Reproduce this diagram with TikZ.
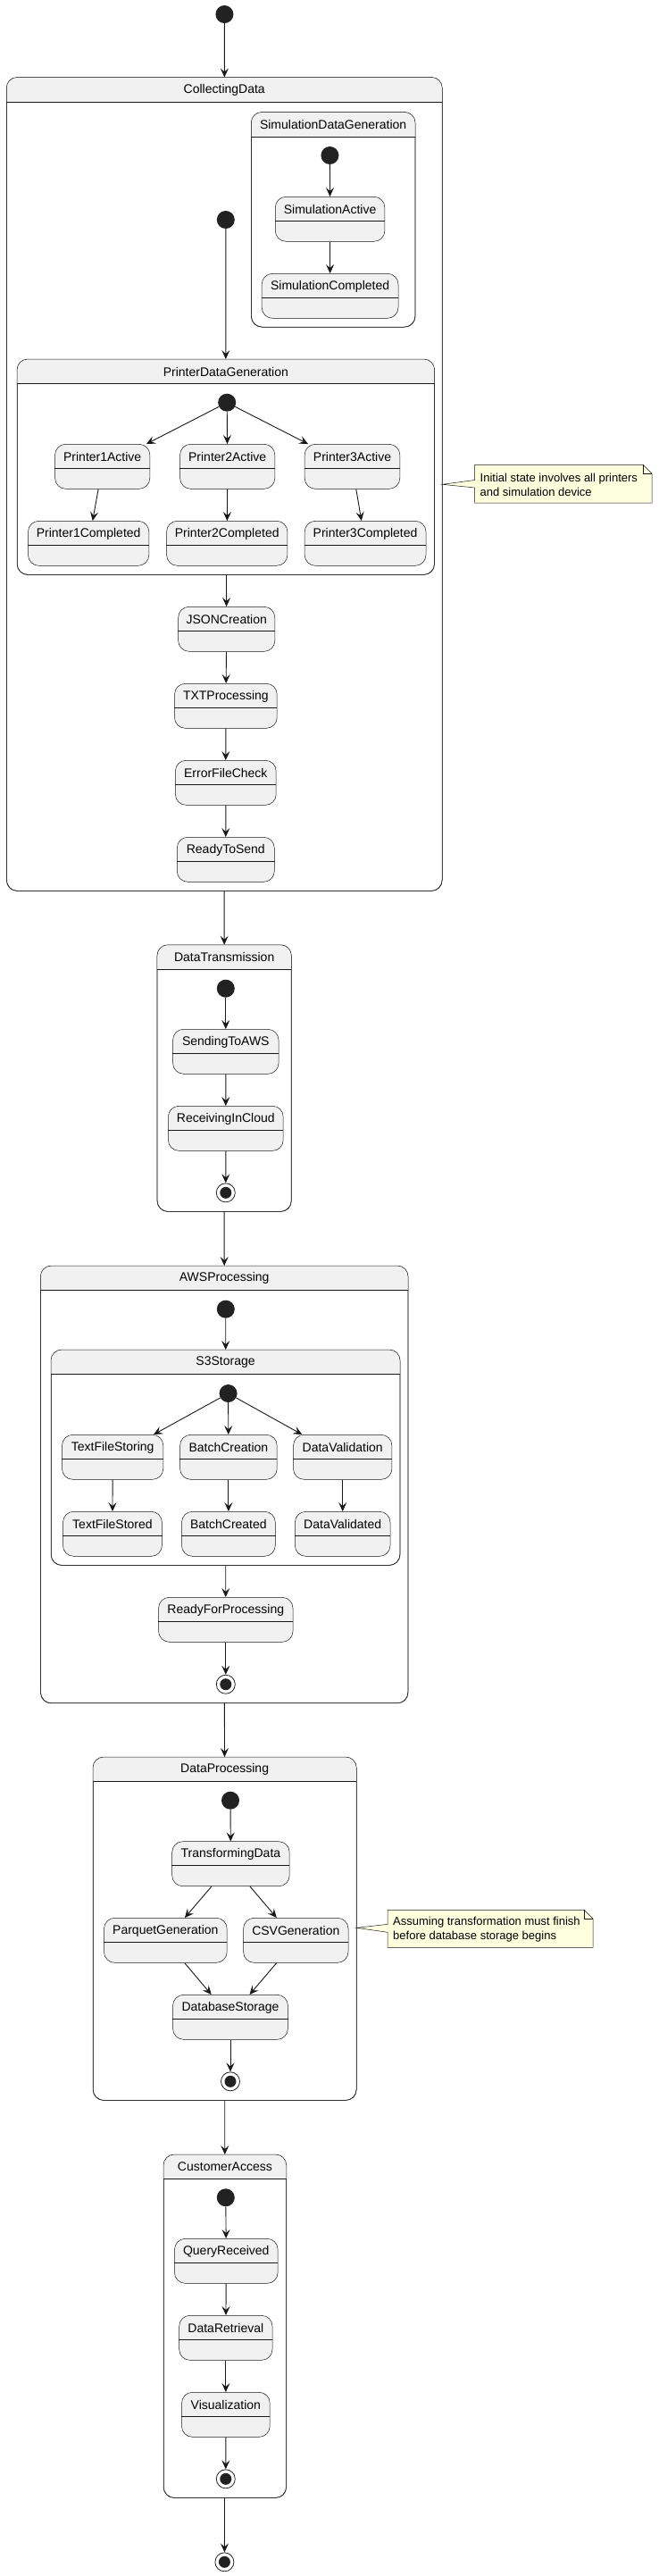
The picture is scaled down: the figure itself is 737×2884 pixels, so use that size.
\documentclass[tikz,border=0pt]{standalone}
\usepackage{fontspec}
\setmainfont{Liberation Sans}
\usetikzlibrary{arrows.meta,calc}
\definecolor{statefill}{HTML}{F1F1F1}
\definecolor{linec}{HTML}{181818}
\definecolor{notefill}{HTML}{FEFFDD}
\definecolor{startc}{HTML}{222222}
\tikzset{
  sstate/.style={rectangle, rounded corners=12pt, minimum height=50pt, fill=statefill, draw=linec, line width=0.5pt, inner sep=0pt},
  cstate/.style={rectangle, rounded corners=12pt, fill=white, draw=linec, line width=0.5pt, inner sep=0pt},
  sepl/.style={draw=linec, line width=0.5pt},
  lbl/.style={font=\fontsize{14}{16}\selectfont, text=black, inner sep=0pt},
  notetxt/.style={font=\fontsize{13}{16.5}\selectfont, text=black, inner sep=0pt, align=left, anchor=west},
  noteshape/.style={fill=notefill, draw=linec, line width=0.5pt, line join=miter},
  initst/.style={circle, fill=startc, minimum size=20pt, inner sep=0pt},
  finalst/.style={circle, draw=startc, fill=white, line width=0.8pt, minimum size=21pt, inner sep=0pt},
  arr/.style={draw=linec, line width=0.9pt, -{Stealth[length=10pt,width=9pt,inset=4pt]}}
}
\newcommand{\sstate}[5]{%
  \pgfmathsetmacro\stW{#3-#2}%
  \pgfmathsetmacro\stX{(#2+#3)/2}%
  \pgfmathsetmacro\stY{#4+25}%
  \node[sstate, minimum width=\stW pt] (#1) at (\stX,\stY) {};
  \draw[sepl] ([yshift=-27pt]#1.north west) -- ([yshift=-27pt]#1.north east);
  \node[lbl] (#1-t) at ([yshift=-14.5pt]#1.north) {#5};
}
\newcommand{\cstate}[6]{%
  \pgfmathsetmacro\cpW{#3-#2}%
  \pgfmathsetmacro\cpH{#5-#4}%
  \pgfmathsetmacro\cpX{(#2+#3)/2}%
  \pgfmathsetmacro\cpY{(#4+#5)/2}%
  \node[cstate, minimum width=\cpW pt, minimum height=\cpH pt] (#1) at (\cpX,\cpY) {};
  \begin{scope}
    \clip (#1.north west) rectangle ([yshift=-27.5pt]#1.north east);
    \fill[statefill, rounded corners=12pt] (#1.north west) rectangle (#1.south east);
  \end{scope}
  \draw[sepl, rounded corners=12pt] (#1.north west) rectangle (#1.south east);
  \draw[sepl] ([yshift=-27.5pt]#1.north west) -- ([yshift=-27.5pt]#1.north east);
  \node[lbl] (#1-t) at ([yshift=-14pt]#1.north) {#6};
}
\begin{document}
\begin{tikzpicture}[x=1pt,y=-1pt]
\useasboundingbox[fill=white] (0,0) rectangle (737,2884);

\node[initst] (s0) at (251.4,16) {};
\cstate{CD}{7.5}{495}{86.7}{997.3}{CollectingData}
\cstate{SDG}{281.5}{464.8}{125.7}{366}{SimulationDataGeneration}
\node[initst] (sdgS) at (369.4,174) {};
\sstate{SA}{308.3}{430.9}{220.3}{SimulationActive}
\sstate{SC}{293.2}{446}{306.3}{SimulationCompleted}
\node[initst] (cdS) at (252.8,246) {};
\cstate{PDG}{19.3}{486.4}{402.3}{643.3}{PrinterDataGeneration}
\node[initst] (pdgS) at (254.2,450.7) {};
\sstate{PoneA}{61.6}{167.8}{497.3}{Printer1Active}
\sstate{PtwoA}{201.6}{307.8}{497.3}{Printer2Active}
\sstate{PthreeA}{341.2}{447.8}{497.3}{Printer3Active}
\sstate{PoneC}{31.5}{166.8}{583.3}{Printer1Completed}
\sstate{PtwoC}{186.6}{321.9}{583.3}{Printer2Completed}
\sstate{PthreeC}{341.2}{477}{583.3}{Printer3Completed}
\sstate{JSON}{199.7}{307.8}{679.3}{JSONCreation}
\sstate{TXT}{195.5}{310.2}{765.3}{TXTProcessing}
\sstate{EFC}{196.4}{309.2}{851.3}{ErrorFileCheck}
\sstate{RTS}{198.3}{307.3}{937.3}{ReadyToSend}

\cstate{DT}{176.2}{326.1}{1058}{1356.3}{DataTransmission}
\node[initst] (dtS) at (252.8,1106.7) {};
\sstate{STA}{193.6}{312}{1152.3}{SendingToAWS}
\sstate{RIC}{188.4}{317.2}{1238.3}{ReceivingInCloud}
\node[finalst] (dtE) at (252.8,1335.3) {};

\cstate{AWS}{45.6}{456.8}{1417.3}{1906.7}{AWSProcessing}
\node[initst] (awsS) at (252.8,1465.7) {};
\cstate{S3}{57.3}{447.8}{1511.3}{1752.3}{S3Storage}
\node[initst] (s3S) at (255.6,1560) {};
\sstate{TFS}{69.5}{182.8}{1606.3}{TextFileStoring}
\sstate{BC}{201.6}{310.2}{1606.3}{BatchCreation}
\sstate{DV}{328.5}{438.9}{1606.3}{DataValidation}
\sstate{TFSd}{70.5}{181.4}{1692.3}{TextFileStored}
\sstate{BCd}{203.5}{308.3}{1692.3}{BatchCreated}
\sstate{DVd}{330.4}{437}{1692.3}{DataValidated}
\sstate{RFP}{177.6}{328}{1788.3}{ReadyForProcessing}
\node[finalst] (awsE) at (252.8,1885.7) {};

\cstate{DP}{104.3}{399}{1967.3}{2351.3}{DataProcessing}
\node[initst] (dpS) at (258,2015.7) {};
\sstate{TD}{192.7}{324.2}{2061.7}{TransformingData}
\sstate{PG}{116.5}{254.2}{2147.3}{ParquetGeneration}
\sstate{CSV}{272.6}{390}{2147.3}{CSVGeneration}
\sstate{DS}{193.6}{322.4}{2233.3}{DatabaseStorage}
\node[finalst] (dpE) at (258,2330.3) {};

\cstate{CA}{183.3}{320.5}{2412.3}{2796.3}{CustomerAccess}
\node[initst] (caS) at (252.8,2460.3) {};
\sstate{QR}{195.5}{311.1}{2506.3}{QueryReceived}
\sstate{DR}{200.7}{305}{2592.3}{DataRetrieval}
\sstate{VIS}{203.5}{302.2}{2678.3}{Visualization}
\node[finalst] (caE) at (252.8,2775.3) {};
\node[finalst] (fE) at (251.4,2868.3) {};

% inner dots of final states
\foreach \f in {dtE,awsE,dpE,caE,fE} { \fill[startc] (\f) circle (6.5pt); }

% notes
\coordinate (n1apex) at (CD.east |- 0,542.3);
\path[noteshape] (531.5,520.3) -- (720,520.3) -- (730,530.3) -- (730,563) -- (531.5,563) -- (531.5,546) -- (n1apex) -- (531.5,537.5) -- cycle;
\draw[sepl] (720,520.3) -- (720,530.3) -- (730,530.3);
\node[notetxt] (n1) at (537.5,542.7) {Initial state involves all printers\\and simulation device};

\coordinate (n2apex) at (DP.east |- 0,2158.3);
\path[noteshape] (434.2,2138.3) -- (654,2138.3) -- (664,2148.3) -- (664,2180.3) -- (434.2,2180.3) -- (434.2,2163.3) -- (n2apex) -- (434.2,2154.3) -- cycle;
\draw[sepl] (654,2138.3) -- (654,2148.3) -- (664,2148.3);
\node[notetxt] (n2) at (440,2160.2) {Assuming transformation must finish\\before database storage begins};

% connectors
\draw[arr] (s0) -- (CD);
\draw[arr] (sdgS) -- (SA);
\draw[arr] (SA) -- (SC);
\draw[arr] (cdS) -- (PDG);
\draw[arr] (pdgS) -- (PoneA);
\draw[arr] (pdgS) -- (PtwoA);
\draw[arr] (pdgS) -- (PthreeA);
\draw[arr] (PoneA) -- (PoneC);
\draw[arr] (PtwoA) -- (PtwoC);
\draw[arr] (PthreeA) -- (PthreeC);
\draw[arr] (PDG) -- (JSON);
\draw[arr] (JSON) -- (TXT);
\draw[arr] (TXT) -- (EFC);
\draw[arr] (EFC) -- (RTS);
\draw[arr] (CD) -- (DT);
\draw[arr] (dtS) -- (STA);
\draw[arr] (STA) -- (RIC);
\draw[arr] (RIC) -- (dtE);
\draw[arr] (DT) -- (AWS);
\draw[arr] (awsS) -- (S3);
\draw[arr] (s3S) -- (TFS);
\draw[arr] (s3S) -- (BC);
\draw[arr] (s3S) -- (DV);
\draw[arr] (TFS) -- (TFSd);
\draw[arr] (BC) -- (BCd);
\draw[arr] (DV) -- (DVd);
\draw[arr] (S3) -- (RFP);
\draw[arr] (RFP) -- (awsE);
\draw[arr] (AWS) -- (DP);
\draw[arr] (dpS) -- (TD);
\draw[arr] (TD) -- (PG);
\draw[arr] (TD) -- (CSV);
\draw[arr] (PG) -- (DS);
\draw[arr] (CSV) -- (DS);
\draw[arr] (DS) -- (dpE);
\draw[arr] (DP) -- (CA);
\draw[arr] (caS) -- (QR);
\draw[arr] (QR) -- (DR);
\draw[arr] (DR) -- (VIS);
\draw[arr] (VIS) -- (caE);
\draw[arr] (CA) -- (fE);
\end{tikzpicture}
\end{document}
